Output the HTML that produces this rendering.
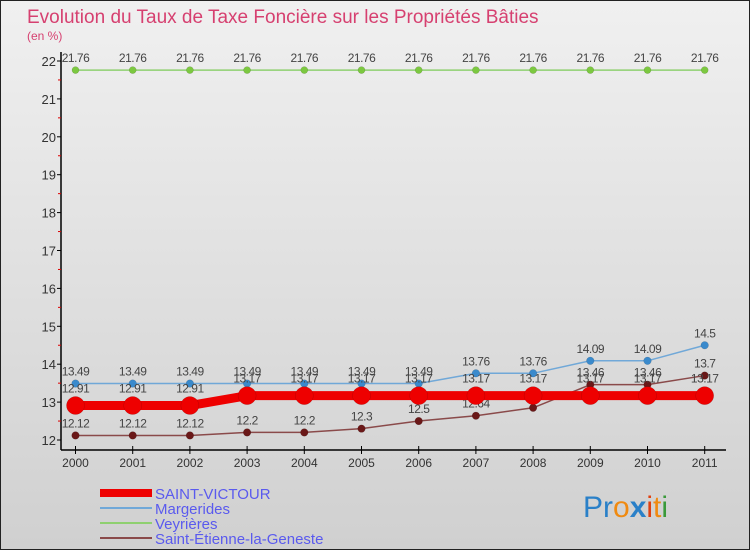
<!DOCTYPE html>
<html><head><meta charset="utf-8"><style>
body{margin:0}
svg{display:block;font-family:"Liberation Sans",sans-serif}
</style></head><body>
<svg id="c" width="750" height="550">
<defs><linearGradient id="bg" x1="0" y1="0" x2="0" y2="1"><stop offset="0" stop-color="#f0f0f0"/><stop offset="1" stop-color="#d0d0d0"/></linearGradient></defs>
<rect x="0.5" y="0.5" width="749" height="549" fill="url(#bg)" stroke="#222"/>
<text x="27" y="23" font-size="19" fill="#d64070">Evolution du Taux de Taxe Foncière sur les Propriétés Bâties</text>
<text x="27" y="40" font-size="12" fill="#d64070">(en %)</text>
<g id="axes"></g><g id="series"></g><g id="legend"></g>
<text x="583" y="517" font-size="30"><tspan fill="#2a80c8">Pr</tspan><tspan fill="#f08a10">o</tspan><tspan fill="#2a80c8" font-weight="bold">x</tspan><tspan fill="#e04010">i</tspan><tspan fill="#f08a10">t</tspan><tspan fill="#3a9a3a">i</tspan></text>
</svg>
<script>
const years=[2000,2001,2002,2003,2004,2005,2006,2007,2008,2009,2010,2011];
const yTicks=[12,13,14,15,16,17,18,19,20,21,22];
const saintVictour=[12.91,12.91,12.91,13.17,13.17,13.17,13.17,13.17,13.17,13.17,13.17,13.17];
const margerides=[13.49,13.49,13.49,13.49,13.49,13.49,13.49,13.76,13.76,14.09,14.09,14.5];
const veyrieres=[21.76,21.76,21.76,21.76,21.76,21.76,21.76,21.76,21.76,21.76,21.76,21.76];
const saintEtienne=[12.12,12.12,12.12,12.2,12.2,12.3,12.5,12.64,12.85,13.46,13.46,13.7];
const NS="http://www.w3.org/2000/svg";
const xS=i=>75.5+i*57.2;
const yS=v=>440-(v-12)*37.9;
function mk(p,t,a){const e=document.createElementNS(NS,t);for(const k in a)e.setAttribute(k,a[k]);p.appendChild(e);return e;}
const ax=document.getElementById('axes');
let l=mk(ax,'line',{x1:61,y1:52,x2:61,y2:450,stroke:'#000','stroke-width':1.5});


l=mk(ax,'line',{x1:61,y1:450,x2:726,y2:450,stroke:'#000','stroke-width':1.5});


yTicks.forEach(v=>{
 mk(ax,'line',{x1:57,y1:yS(v),x2:61,y2:yS(v),stroke:'#000'});
 if(v<22)mk(ax,'line',{x1:58,y1:yS(v+0.5),x2:61,y2:yS(v+0.5),stroke:'#d00'});
 const t=mk(ax,'text',{x:56,y:yS(v)+5,'font-size':13,fill:'#333','text-anchor':'end'});t.textContent=v;
 
 
});
years.forEach((y,i)=>{
 mk(ax,'line',{x1:xS(i),y1:446,x2:xS(i),y2:454,stroke:'#000'});
 const t=mk(ax,'text',{x:xS(i),y:467,'font-size':12,fill:'#333','text-anchor':'middle'});t.textContent=y;
 
 
});
const sg=document.getElementById('series');
function draw(vals,color,w,r,ptColor,name,lblOff){
 const g=mk(sg,'g',{});
 
 
 mk(g,'polyline',{points:vals.map((v,i)=>xS(i)+','+yS(v)).join(' '),fill:'none',stroke:color,'stroke-width':w,'stroke-linejoin':'round'});
 vals.forEach((v,i)=>{
  const c=mk(g,'circle',{cx:xS(i),cy:yS(v),r:r,fill:ptColor,stroke:'rgba(0,0,0,0.2)','stroke-width':0.5});
  
  
  const t=mk(g,'text',{x:xS(i),y:yS(v)-lblOff,'font-size':12,fill:'#444','text-anchor':'middle','letter-spacing':'-0.5'});t.textContent=v;
  
  
 });
}
draw(veyrieres,'#8fd070',1.5,3.5,'#7cc840','veyrieres-series',8);
draw(margerides,'#70a8d8',1.5,3.8,'#3a8acc','margerides-series',8);
draw(saintEtienne,'#8a4a4a',1.5,3.8,'#6a1818','saint-etienne-series',8);
draw(saintVictour,'#ee0000',9,9,'#ee0000','saint-victour-series',13);
const lg=document.getElementById('legend');
const leg=[['SAINT-VICTOUR','#ee0000',8],['Margerides','#70a8d8',2],['Veyrières','#8fd070',2],['Saint-Étienne-la-Geneste','#8a4a4a',2]];
leg.forEach((d,i)=>{
 const y=493+i*15;
 const g=mk(lg,'g',{});
 
 
 mk(g,'line',{x1:100,y1:y,x2:152,y2:y,stroke:d[1],'stroke-width':d[2]});
 const t=mk(g,'text',{x:155,y:y+6,'font-size':15,fill:'#5a5aee'});t.textContent=d[0];
});
</script>
</body></html>
